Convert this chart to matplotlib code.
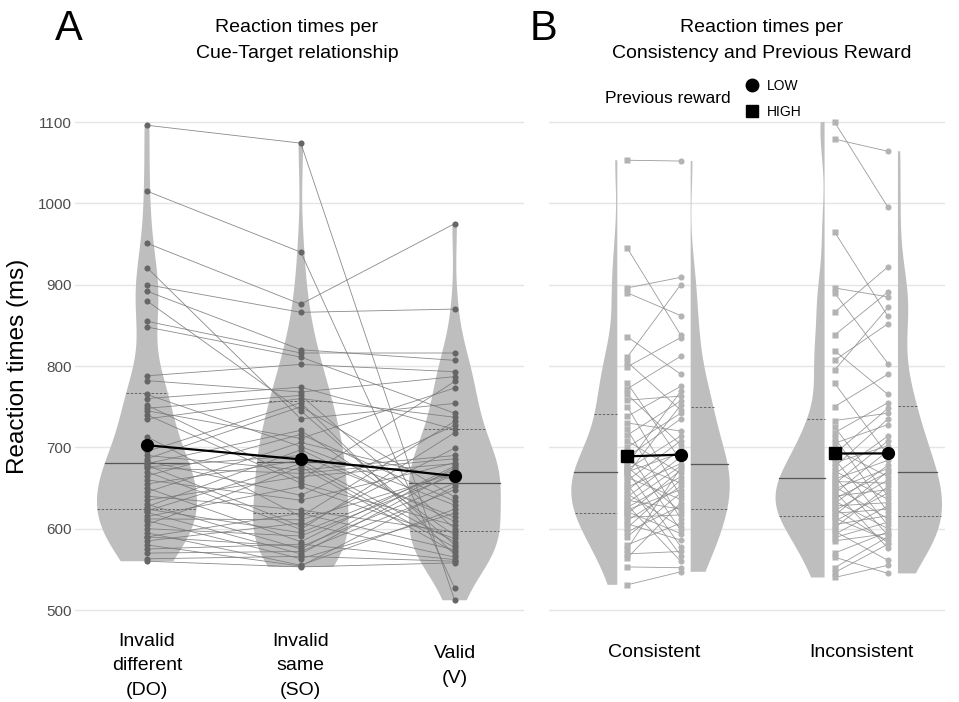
import numpy as np
import matplotlib
matplotlib.use("Agg")
import matplotlib.pyplot as plt
from matplotlib import cbook, mlab
from matplotlib.lines import Line2D

plt.rcParams['font.family'] = ['Liberation Sans', 'DejaVu Sans']

# reaction times (ms), one entry per subject, same order in every list
cue_labels = ['Invalid\ndifferent\n(DO)', 'Invalid\nsame\n(SO)', 'Valid\n(V)']
rt_do = [1096, 1015, 951, 921, 900, 892, 880, 855, 848, 788, 782, 765, 760,
         752, 748, 745, 740, 735, 713, 695, 690, 686, 683, 680, 678, 676,
         675, 670, 665, 660, 655, 650, 645, 640, 635, 630, 627, 624, 622,
         620, 615, 612, 610, 605, 600, 595, 590, 590, 585, 580, 575, 570, 563, 560]
rt_so = [1074, 940, 876, 735, 866, 820, 745, 816, 811, 802, 768, 701, 774, 660,
         764, 711, 656, 760, 615, 755, 672, 750, 641, 721, 603, 690, 668, 599,
         716, 635, 684, 584, 706, 623, 664, 575, 697, 595, 680, 569, 652, 611,
         563, 676, 591, 555, 619, 578, 607, 554, 581, 572, 566, 553]
rt_v = [512, 527, 975, 754, 870, 807, 580, 816, 742, 793, 787, 629, 722, 781,
        600, 773, 604, 737, 732, 568, 690, 639, 727, 592, 699, 614, 686, 718,
        634, 681, 584, 677, 660, 596, 680, 675, 609, 672, 577, 670, 588, 668,
        619, 571, 666, 624, 574, 656, 565, 652, 562, 648, 560, 558]

cons_labels = ['Consistent', 'Inconsistent']
cons_high = [1053, 945, 896, 890, 836, 811, 805, 799, 779, 772, 765, 758, 750,
             738, 730, 722, 715, 708, 700, 694, 688, 683, 679, 676, 673, 671, 670,
             667, 663, 659, 655, 651, 647, 643, 639, 635, 632, 629, 626, 623, 621,
             618, 614, 610, 606, 601, 596, 590, 580, 575, 569, 564, 553, 531]
cons_low = [1052, 838, 909, 862, 790, 900, 746, 835, 684, 812, 703, 763, 640, 775,
            720, 612, 757, 668, 742, 598, 735, 656, 769, 621, 714, 578, 693, 752,
            636, 708, 567, 680, 698, 602, 688, 624, 677, 560, 664, 648, 594, 672,
            617, 652, 586, 660, 628, 644, 607, 675, 572, 632, 552, 547]
incons_high = [1100, 1079, 965, 896, 890, 866, 838, 819, 807, 795, 779, 750,
               733, 725, 718, 712, 705, 698, 692, 686, 681, 676, 671, 667, 664, 661,
               658, 655, 652, 649, 646, 643, 640, 637, 634, 631, 628, 625, 622, 619,
               616, 613, 609, 605, 601, 597, 593, 589, 585, 570, 565, 552, 546, 540]
incons_low = [995, 1064, 861, 885, 803, 922, 891, 765, 852, 872, 690, 790, 742, 640,
              755, 620, 728, 664, 748, 604, 702, 735, 636, 714, 592, 684, 656, 708,
              612, 674, 576, 696, 648, 669, 600, 678, 632, 583, 660, 624, 671, 586,
              644, 616, 652, 561, 628, 608, 594, 596, 545, 590, 581, 555]

VIOLIN = '#bebebe'
QLINE = '#555555'

W, H = 959, 702
fig = plt.figure(figsize=(W / 100, H / 100), dpi=100)


def add_ax(x0, y0, x1, y1):
    return fig.add_axes([x0 / W, 1 - y1 / H, (x1 - x0) / W, (y1 - y0) / H])


def nrd0(kde):
    # R's default bandwidth (bw.nrd0), as used by geom_violin
    d = kde.dataset[0]
    sd = d.std(ddof=1)
    iqr = np.subtract(*np.percentile(d, [75, 25]))
    bw = 0.9 * min(sd, iqr / 1.34) * len(d) ** -0.2
    return bw / sd


def kde_method(data, coords):
    return mlab.GaussianKDE(data, bw_method=nrd0).evaluate(coords)


def draw_violin(ax, values, pos, width, side='both'):
    st = cbook.violin_stats([np.asarray(values, float)], kde_method, points=512)
    parts = ax.violin(st, positions=[pos], widths=width, showextrema=False, side=side)
    for b in parts['bodies']:
        b.set_facecolor(VIOLIN)
        b.set_edgecolor('none')
        b.set_alpha(1)
        b.set_zorder(1)
    coords, vals = st[0]['coords'], st[0]['vals']
    cdf = np.cumsum(vals)
    cdf = cdf / cdf[-1]
    qs = np.interp([0.25, 0.5, 0.75], cdf, coords)
    half = 0.5 * width * np.interp(qs, coords, vals) / vals.max()
    for q, h, ls in zip(qs, half, ['--', '-', '--']):
        x0 = pos - h if side in ('both', 'low') else pos
        x1 = pos + h if side in ('both', 'high') else pos
        ax.plot([x0, x1], [q, q], color=QLINE, lw=0.9 if ls == '-' else 0.6,
                ls=ls, dashes=(3, 2) if ls == '--' else (None, None), zorder=2)


def style_ax(ax):
    for s in ax.spines.values():
        s.set_visible(False)
    ax.set_ylim(481.6, 1133.2)
    ax.set_yticks([500, 600, 700, 800, 900, 1000, 1100])
    ax.yaxis.grid(True, color='#e5e5e5', lw=1)
    ax.set_axisbelow(True)
    ax.tick_params(length=0)


# ---------- panel A ----------
axA = add_ax(75, 95, 524, 625)
style_ax(axA)
cue_data = [rt_do, rt_so, rt_v]
cue_widths = [0.65, 0.62, 0.60]
for i, (d, w) in enumerate(zip(cue_data, cue_widths)):
    draw_violin(axA, d, i, w)

xs = np.arange(3)
for subj in zip(rt_do, rt_so, rt_v):
    axA.plot(xs, subj, color='#767676', lw=0.6, alpha=0.85, zorder=3)
for i, d in enumerate(cue_data):
    axA.plot(np.full(len(d), i), d, 'o', color='#666666', ms=4.4, mec='none', zorder=4)
axA.plot(xs, [np.mean(d) for d in cue_data], '-o', color='black', lw=1.6, ms=8.5, zorder=5)

axA.set_xlim(-0.468, 2.451)
axA.set_xticks(xs)
axA.set_xticklabels(cue_labels, fontsize=14, linespacing=1.55)
for lab in axA.get_xticklabels():
    lab.set_va('center')
axA.tick_params(axis='x', pad=29.5)
axA.tick_params(axis='y', labelsize=11, labelcolor='#4d4d4d', pad=2.2)

# ---------- panel B ----------
axB = add_ax(549, 95, 945, 625)
style_ax(axB)
axB.set_yticklabels([])
pairs = [(cons_high, cons_low), (incons_high, incons_low)]
widths_b = [(0.444, 0.377), (0.473, 0.425)]
off_pts = 0.129
off_vio = 0.177
for i, ((hi, lo), (wh, wl)) in enumerate(zip(pairs, widths_b)):
    draw_violin(axB, hi, i - off_vio, wh, side='low')
    draw_violin(axB, lo, i + off_vio, wl, side='high')
    for a, b in zip(hi, lo):
        axB.plot([i - off_pts, i + off_pts], [a, b], color='#8a8a8a', lw=0.6,
                 alpha=0.85, zorder=3)
    axB.plot(np.full(len(hi), i - off_pts), hi, 's', color='#b3b3b3', ms=4.2,
             mec='none', zorder=4)
    axB.plot(np.full(len(lo), i + off_pts), lo, 'o', color='#b3b3b3', ms=4.4,
             mec='none', zorder=4)
    axB.plot([i - off_pts, i + off_pts], [np.mean(hi), np.mean(lo)], color='black',
             lw=1.6, zorder=5)
    axB.plot([i - off_pts], [np.mean(hi)], 's', color='black', ms=8, zorder=6)
    axB.plot([i + off_pts], [np.mean(lo)], 'o', color='black', ms=8.5, zorder=6)

axB.set_xlim(-0.5065, 1.404)
axB.set_xticks([0, 1])
axB.set_xticklabels(cons_labels, fontsize=14)
for lab in axB.get_xticklabels():
    lab.set_va('center')
axB.tick_params(axis='x', pad=20)

# legend
handles = [Line2D([], [], marker='o', ls='', color='black', ms=9, label='LOW'),
           Line2D([], [], marker='s', ls='', color='black', ms=8, label='HIGH')]
fig.legend(handles=handles, loc='center left', bbox_to_anchor=(745 / W, 1 - 99 / H),
           frameon=False, fontsize=10, borderpad=0, borderaxespad=0,
           handlelength=1.0, handletextpad=0.6, labelspacing=0.85)
fig.text(605 / W, 1 - 103 / H, 'Previous reward', fontsize=12.5, va='baseline')

# titles and panel letters
fig.text(55 / W, 1 - 40 / H, 'A', fontsize=30, va='baseline')
fig.text(530 / W, 1 - 40 / H, 'B', fontsize=30, va='baseline')
fig.text(297 / W, 1 - 32 / H, 'Reaction times per', fontsize=14, ha='center', va='baseline')
fig.text(297 / W, 1 - 58 / H, 'Cue-Target relationship', fontsize=14, ha='center', va='baseline')
fig.text(762 / W, 1 - 32 / H, 'Reaction times per', fontsize=14, ha='center', va='baseline')
fig.text(762 / W, 1 - 57.5 / H, 'Consistency and Previous Reward', fontsize=14,
         ha='center', va='baseline')
fig.text(18 / W, 1 - 366 / H, 'Reaction times (ms)', fontsize=17.5, rotation=90,
         ha='center', va='center')

fig.savefig('out.png', dpi=100)
